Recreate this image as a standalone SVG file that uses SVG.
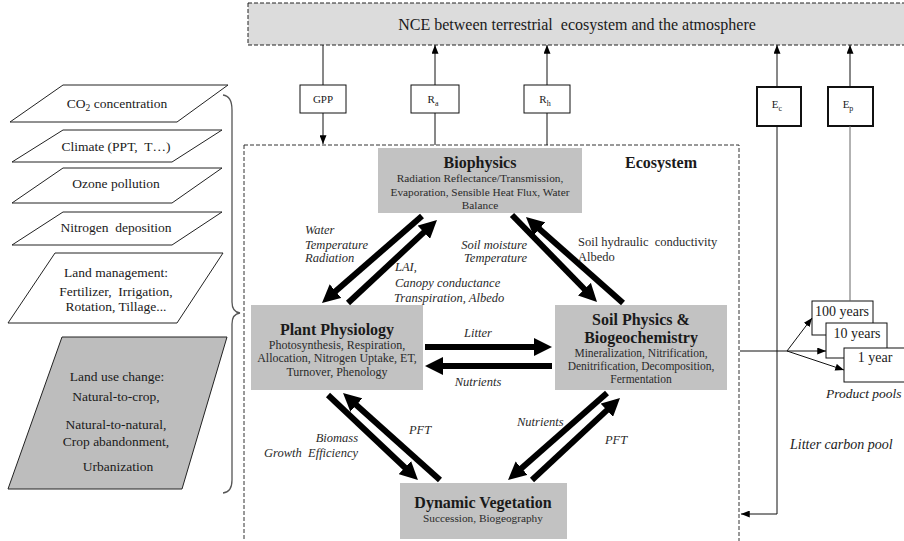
<svg xmlns="http://www.w3.org/2000/svg" width="904" height="541" viewBox="0 0 904 541" font-family="Liberation Serif, Times New Roman, serif">
<defs>
<style>
text{font-family:"Liberation Serif","Times New Roman",serif;fill:#1a1a1a}
.t16{font-size:16px}
.title{font-size:16px;font-weight:bold;text-anchor:middle}
.sub{font-size:11.3px;text-anchor:middle;fill:#2a2a2a}
.subp{font-size:12px;text-anchor:middle;fill:#2a2a2a}
.subs{font-size:11.5px;text-anchor:middle;fill:#2a2a2a}
.lab{font-size:12.5px;font-style:italic;fill:#2a2a2a}
.reg{font-size:12.5px;fill:#2a2a2a}
.left{font-size:13.5px;text-anchor:middle}
.small{font-size:11px;text-anchor:middle}
.pool{font-size:14px;text-anchor:middle}
.gbox{fill:#c2c2c2;stroke:none}
.para{fill:#fff;stroke:#222;stroke-width:1}
.thick{stroke:#000;stroke-width:6;fill:none;marker-end:url(#big)}
.thin{stroke:#111;stroke-width:1;fill:none}
.thinA{stroke:#111;stroke-width:1;fill:none;marker-end:url(#sm)}
.fbox{fill:#fff;stroke:#111;stroke-width:1}
.ebox{fill:#fff;stroke:#111;stroke-width:2}
</style>
<marker id="big" viewBox="0 0 10 10" markerWidth="3" markerHeight="3" refX="3" refY="5" orient="auto" markerUnits="strokeWidth">
<path d="M0,0 L10,5 L0,10 z" fill="#000"/>
</marker>
<marker id="sm" viewBox="0 0 10 8" markerWidth="9" markerHeight="7" refX="10" refY="4" orient="auto" markerUnits="userSpaceOnUse">
<path d="M0,0 L10,4 L0,8 z" fill="#000"/>
</marker>
</defs>
<rect width="904" height="541" fill="#fff"/>

<g id="nce">
<rect x="248" y="3" width="662" height="42" fill="#dcdcdc" stroke="#222" stroke-width="1" stroke-dasharray="4 2"/>
<text class="t16" x="577" y="30" text-anchor="middle" style="white-space:pre">NCE between terrestrial  ecosystem and the atmosphere</text>
</g>

<g id="ecosystem">
<rect x="244" y="145" width="495" height="410" fill="none" stroke="#333" stroke-width="1" stroke-dasharray="4 2"/>
<text x="661" y="168" font-size="16" font-weight="bold" text-anchor="middle">Ecosystem</text>
</g>

<g id="inputs">
<g id="co2">
<polygon class="para" points="63,85 228,85 177,122 10,122"/>
<text class="left" x="117" y="108">CO<tspan font-size="9.5" dy="3">2</tspan><tspan dy="-3"> concentration</tspan></text>
</g>
<g id="climate">
<polygon class="para" points="63,130 222,130 172,162 12,162"/>
<text class="left" x="116" y="151" style="white-space:pre">Climate (PPT,  T…)</text>
</g>
<g id="ozone">
<polygon class="para" points="63,168 222,168 172,203 12,203"/>
<text class="left" x="116" y="188">Ozone pollution</text>
</g>
<g id="nitrogen">
<polygon class="para" points="63,212 222,212 172,245 12,245"/>
<text class="left" x="116" y="232" style="white-space:pre">Nitrogen  deposition</text>
</g>
<g id="landmgmt">
<polygon class="para" points="55,253 223,253 177,323 8,323"/>
<text class="left" x="116" y="277">Land management:</text>
<text class="left" x="116" y="296" style="white-space:pre">Fertilizer,  Irrigation,</text>
<text class="left" x="116" y="311">Rotation, Tillage...</text>
</g>
<g id="landuse">
<polygon points="62,337 227,337 182,489 8,489" fill="#bdbdbd" stroke="#222" stroke-width="1"/>
<text class="left" x="117" y="381">Land use change:</text>
<text class="left" x="116" y="401">Natural-to-crop,</text>
<text class="left" x="116" y="429">Natural-to-natural,</text>
<text class="left" x="116" y="446">Crop abandonment,</text>
<text class="left" x="118" y="471">Urbanization</text>
</g>
<path id="brace" d="M223,95 Q232,96 232,110 L232,302 Q232,312 240,313 Q232,314 232,324 L232,480 Q232,492 223,493" fill="none" stroke="#555" stroke-width="1.3"/>
</g>

<g id="biophysics">
<rect class="gbox" x="378" y="148" width="204" height="65"/>
<text class="title" x="480" y="168">Biophysics</text>
<text class="sub" x="480" y="182">Radiation Reflectance/Transmission,</text>
<text class="sub" x="480" y="196">Evaporation, Sensible Heat Flux, Water</text>
<text class="sub" x="480" y="209">Balance</text>
</g>

<g id="plant">
<rect class="gbox" x="251" y="305" width="172" height="85"/>
<text class="title" x="337" y="335">Plant Physiology</text>
<text class="subp" x="337" y="349">Photosynthesis, Respiration,</text>
<text class="subp" x="337" y="362">Allocation, Nitrogen Uptake, ET,</text>
<text class="subp" x="337" y="376">Turnover, Phenology</text>
</g>

<g id="soil">
<rect class="gbox" x="555" y="305" width="172" height="85"/>
<text class="title" x="641" y="325">Soil Physics &amp;</text>
<text class="title" x="641" y="343">Biogeochemistry</text>
<text class="subs" x="641" y="357">Mineralization, Nitrification,</text>
<text class="subs" x="641" y="370">Denitrification, Decomposition,</text>
<text class="subs" x="641" y="383">Fermentation</text>
</g>

<g id="dynveg">
<rect class="gbox" x="400" y="483" width="167" height="56"/>
<text class="title" x="483" y="508">Dynamic Vegetation</text>
<text class="sub" x="483" y="522">Succession, Biogeography</text>
</g>

<g id="gpp"><rect class="fbox" x="300" y="85" width="46" height="28"/><text class="small" x="323" y="103">GPP</text></g>
<g id="ra"><rect class="fbox" x="411" y="85" width="48" height="28"/><text class="small" x="433" y="103">R<tspan font-size="8" dy="3">a</tspan></text></g>
<g id="rh"><rect class="fbox" x="524" y="85" width="46" height="28"/><text class="small" x="545" y="103">R<tspan font-size="8" dy="3">h</tspan></text></g>
<g id="ec"><rect class="ebox" x="757" y="87" width="44" height="39"/><text class="small" x="777" y="108">E<tspan font-size="8" dy="3">c</tspan></text></g>
<g id="ep"><rect class="ebox" x="828" y="87" width="45" height="39"/><text class="small" x="848" y="108">E<tspan font-size="8" dy="3">p</tspan></text></g>

<g id="pools">
<rect class="fbox" x="812" y="301" width="61" height="34"/>
<text class="pool" x="842" y="316">100 years</text>
<rect class="fbox" x="826" y="323" width="61" height="35"/>
<text class="pool" x="857" y="338">10 years</text>
<rect class="fbox" x="844" y="348" width="70" height="34"/>
<text class="pool" x="875" y="362">1 year</text>
<text x="826" y="398" font-size="13.5" font-style="italic">Product pools</text>
</g>
<text id="litterpool" x="790" y="449" font-size="14" font-style="italic">Litter carbon pool</text>

<g id="connectors">
<line class="thin" x1="323" y1="45" x2="323" y2="85"/>
<line class="thinA" x1="323" y1="113" x2="323" y2="144"/>
<line class="thin" x1="435" y1="145" x2="435" y2="113"/>
<line class="thinA" x1="435" y1="85" x2="435" y2="45"/>
<line class="thin" x1="547" y1="145" x2="547" y2="113"/>
<line class="thinA" x1="547" y1="85" x2="547" y2="45"/>
<line class="thinA" x1="777" y1="87" x2="777" y2="45"/>
<polyline class="thinA" points="777,126 777,514 741,514"/>
<line class="thinA" x1="850" y1="87" x2="850" y2="45" stroke="#555"/>
<line x1="850" y1="126" x2="850" y2="301" stroke="#666" stroke-width="1"/>
<line class="thin" x1="740" y1="351" x2="787" y2="351"/>
<line class="thinA" x1="787" y1="351" x2="812" y2="318"/>
<line class="thinA" x1="787" y1="351" x2="826" y2="351"/>
<line class="thinA" x1="787" y1="351" x2="844" y2="370"/>

<line class="thick" x1="422" y1="216" x2="331.5" y2="294.7"/>
<line class="thick" x1="348" y1="303" x2="427.8" y2="228.6"/>
<line class="thick" x1="512" y1="215" x2="588.2" y2="293"/>
<line class="thick" x1="623" y1="303" x2="535.4" y2="225.4"/>
<line class="thick" x1="328" y1="395" x2="408.8" y2="471.3"/>
<line class="thick" x1="440" y1="480" x2="352.4" y2="401.4"/>
<line class="thick" x1="607" y1="393" x2="517.5" y2="471.7"/>
<line class="thick" x1="532" y1="480" x2="610.8" y2="406.6"/>
<line class="thick" x1="425" y1="347" x2="539.4" y2="347"/>
<line class="thick" x1="552" y1="366" x2="437.6" y2="366"/>

<g id="labels">
<text class="lab" x="305" y="234">Water</text>
<text class="lab" x="305" y="249">Temperature</text>
<text class="lab" x="305" y="262">Radiation</text>
<text class="lab" x="395" y="271">LAI,</text>
<text class="lab" x="395" y="287">Canopy conductance</text>
<text class="lab" x="394" y="302">Transpiration, Albedo</text>
<text class="lab" x="527" y="249" text-anchor="end">Soil moisture</text>
<text class="lab" x="527" y="262" text-anchor="end">Temperature</text>
<text class="reg" x="578" y="246" style="white-space:pre">Soil hydraulic  conductivity</text>
<text class="reg" x="578" y="261">Albedo</text>
<text class="lab" x="478" y="337" text-anchor="middle">Litter</text>
<text class="lab" x="478" y="386" text-anchor="middle">Nutrients</text>
<text class="lab" x="420" y="434" text-anchor="middle">PFT</text>
<text class="lab" x="358" y="442" text-anchor="end">Biomass</text>
<text class="lab" x="358" y="457" text-anchor="end" style="white-space:pre">Growth  Efficiency</text>
<text class="lab" x="517" y="426">Nutrients</text>
<text class="lab" x="616" y="444" text-anchor="middle">PFT</text>
</g>
</g>
</svg>
